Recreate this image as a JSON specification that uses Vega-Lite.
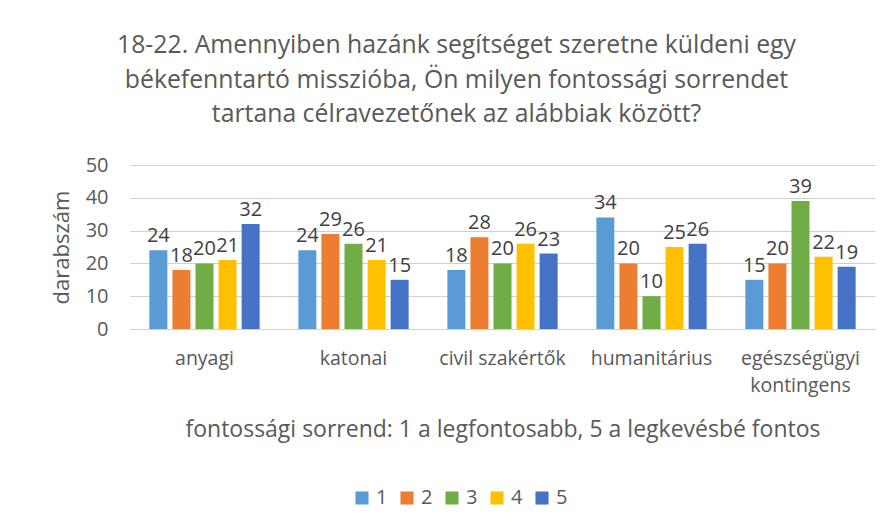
{
  "$schema": "https://vega.github.io/schema/vega-lite/v6.json",
  "autosize": "none",
  "width": 745,
  "height": 164,
  "padding": {"left": 130, "top": 165, "right": 17, "bottom": 199},
  "background": "white",
  "title": {
    "text": ["18-22. Amennyiben hazánk segítséget szeretne küldeni egy", "békefenntartó misszióba, Ön milyen fontossági sorrendet", "tartana célravezetőnek az alábbiak között?"],
    "font": "Open Sans",
    "fontSize": 24.8,
    "fontWeight": "normal",
    "color": "#595959",
    "lineHeight": 34.5,
    "anchor": "middle",
    "dx": -46,
    "offset": 28
  },
  "data": {
    "values": [
      {"cat": "anyagi", "rank": "1", "n": 24},
      {"cat": "anyagi", "rank": "2", "n": 18},
      {"cat": "anyagi", "rank": "3", "n": 20},
      {"cat": "anyagi", "rank": "4", "n": 21},
      {"cat": "anyagi", "rank": "5", "n": 32},
      {"cat": "katonai", "rank": "1", "n": 24},
      {"cat": "katonai", "rank": "2", "n": 29},
      {"cat": "katonai", "rank": "3", "n": 26},
      {"cat": "katonai", "rank": "4", "n": 21},
      {"cat": "katonai", "rank": "5", "n": 15},
      {"cat": "civil szakértők", "rank": "1", "n": 18},
      {"cat": "civil szakértők", "rank": "2", "n": 28},
      {"cat": "civil szakértők", "rank": "3", "n": 20},
      {"cat": "civil szakértők", "rank": "4", "n": 26},
      {"cat": "civil szakértők", "rank": "5", "n": 23},
      {"cat": "humanitárius", "rank": "1", "n": 34},
      {"cat": "humanitárius", "rank": "2", "n": 20},
      {"cat": "humanitárius", "rank": "3", "n": 10},
      {"cat": "humanitárius", "rank": "4", "n": 25},
      {"cat": "humanitárius", "rank": "5", "n": 26},
      {"cat": "egészségügyi kontingens", "rank": "1", "n": 15},
      {"cat": "egészségügyi kontingens", "rank": "2", "n": 20},
      {"cat": "egészségügyi kontingens", "rank": "3", "n": 39},
      {"cat": "egészségügyi kontingens", "rank": "4", "n": 22},
      {"cat": "egészségügyi kontingens", "rank": "5", "n": 19}
    ]
  },
  "encoding": {
    "x": {
      "field": "cat",
      "type": "nominal",
      "sort": ["anyagi", "katonai", "civil szakértők", "humanitárius", "egészségügyi kontingens"],
      "scale": {"paddingInner": 0.26, "paddingOuter": 0.13},
      "axis": {
        "title": "fontossági sorrend: 1 a legfontosabb, 5 a legkevésbé fontos",
        "titleFont": "Open Sans",
        "titleFontSize": 23,
        "titleFontWeight": "normal",
        "titleColor": "#595959",
        "titlePadding": 24,
        "labelFont": "Open Sans",
        "labelFontSize": 19.5,
        "labelColor": "#595959",
        "labelAngle": 0,
        "labelPadding": 29,
        "labelBaseline": "middle",
        "labelLineHeight": 27,
        "labelOverlap": false,
        "labelExpr": "datum.value == 'egészségügyi kontingens' ? ['egészségügyi', 'kontingens'] : datum.value",
        "ticks": false,
        "grid": false,
        "domainColor": "#d0d0d0",
        "zindex": 0
      }
    },
    "xOffset": {"field": "rank", "type": "nominal", "scale": {"paddingInner": 0.22}},
    "y": {
      "field": "n",
      "type": "quantitative",
      "scale": {"domain": [0, 50]},
      "axis": {
        "title": "darabszám",
        "titleFont": "Open Sans",
        "titleFontSize": 22,
        "titleFontWeight": "normal",
        "titleColor": "#595959",
        "titlePadding": 12,
        "labelFont": "Open Sans",
        "labelFontSize": 20,
        "labelColor": "#595959",
        "labelPadding": 22,
        "labelOverlap": false,
        "values": [0, 10, 20, 30, 40, 50],
        "ticks": false,
        "domain": false,
        "grid": true,
        "gridColor": "#d0d0d0",
        "gridWidth": 1,
        "gridOpacity": 1,
        "zindex": 0
      }
    }
  },
  "layer": [
    {
      "mark": {"type": "bar"},
      "encoding": {
        "color": {
          "field": "rank",
          "type": "nominal",
          "scale": {"range": ["#5B9BD5", "#ED7D31", "#70AD47", "#FFC000", "#4472C4"]},
          "legend": {
            "title": null,
            "orient": "none",
            "direction": "horizontal",
            "legendX": 222,
            "legendY": 323,
            "symbolType": "square",
            "symbolSize": 170,
            "symbolStrokeWidth": 0,
            "labelFont": "Open Sans",
            "labelFontSize": 20,
            "labelColor": "#595959",
            "columnPadding": 9,
            "labelOffset": 4
          }
        }
      }
    },
    {
      "mark": {"type": "text", "baseline": "bottom", "dy": -4, "font": "Open Sans", "fontSize": 20, "color": "#404040"},
      "encoding": {"text": {"field": "n", "type": "quantitative"}}
    }
  ],
  "config": {"view": {"stroke": null}}
}
